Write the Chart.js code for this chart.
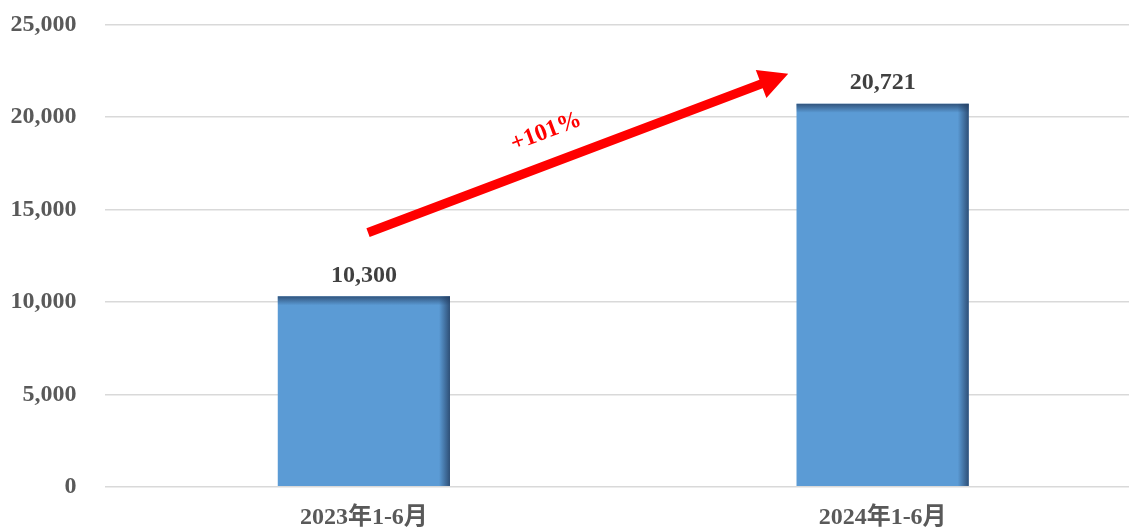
<!DOCTYPE html>
<html>
<head>
<meta charset="utf-8">
<script src="https://cdn.jsdelivr.net/npm/chart.js@4/dist/chart.umd.min.js"></script>
<style>
html,body{margin:0;padding:0;background:#fff;overflow:hidden;width:1129px;height:528px;}
#wrap{width:1142px;height:528px;}
</style>
</head>
<body>
<div id="wrap"><canvas id="c" width="1142" height="528"></canvas></div>
<script>
const categories = ['2023年1-6月', '2024年1-6月'];
const values = [10300, 20721];
const valueLabels = ['10,300', '20,721'];
const yTicks = [0, 5000, 10000, 15000, 20000, 25000];
const growthLabel = '+101%';
// arrow annotation anchors (category index + fraction of step, value)
const arrowFrom = { index: 0, shift: 0.008, value: 13750 };
const arrowTo = { index: 1, shift: -0.182, value: 22350 };

const FONT = '"Liberation Serif", "Times New Roman", "Noto Sans CJK SC", serif';

const barShade = {
  id: 'barShade',
  afterDatasetsDraw(chart) {
    const ctx = chart.ctx;
    chart.getDatasetMeta(0).data.forEach(el => {
      const p = el.getProps(['x', 'y', 'base', 'width'], true);
      const l = p.x - p.width / 2, r = p.x + p.width / 2, t = p.y, b = p.base;
      ctx.save();
      let g = ctx.createLinearGradient(0, t, 0, t + 9);
      g.addColorStop(0, 'rgba(35,60,95,0.75)');
      g.addColorStop(1, 'rgba(35,60,95,0)');
      ctx.fillStyle = g;
      ctx.fillRect(l, t, r - l, 9);
      g = ctx.createLinearGradient(r - 11, 0, r, 0);
      g.addColorStop(0, 'rgba(35,60,95,0)');
      g.addColorStop(1, 'rgba(35,60,95,0.8)');
      ctx.fillStyle = g;
      ctx.fillRect(r - 11, t, 11, b - t);
      ctx.restore();
    });
  }
};

const labelsAndArrow = {
  id: 'labelsAndArrow',
  afterDraw(chart) {
    const ctx = chart.ctx;
    const xs = chart.scales.x, ys = chart.scales.y;
    ctx.save();
    ctx.font = 'bold 24px ' + FONT;
    ctx.fillStyle = '#404040';
    ctx.textAlign = 'center';
    ctx.textBaseline = 'middle';
    chart.getDatasetMeta(0).data.forEach((el, i) => {
      ctx.fillText(valueLabels[i], el.x, el.y - 21);
    });
    const step = xs.getPixelForValue(1) - xs.getPixelForValue(0);
    const x0 = xs.getPixelForValue(arrowFrom.index) + arrowFrom.shift * step;
    const y0 = ys.getPixelForValue(arrowFrom.value);
    const x1 = xs.getPixelForValue(arrowTo.index) + arrowTo.shift * step;
    const y1 = ys.getPixelForValue(arrowTo.value);
    const ang = Math.atan2(y1 - y0, x1 - x0);
    const len = Math.hypot(x1 - x0, y1 - y0);
    ctx.translate(x0, y0);
    ctx.rotate(ang);
    const hl = 29, hw = 15, sw = 4.6;
    ctx.fillStyle = '#FF0000';
    ctx.beginPath();
    ctx.moveTo(0, -sw);
    ctx.lineTo(len - hl, -sw);
    ctx.lineTo(len - hl, -hw);
    ctx.lineTo(len, 0);
    ctx.lineTo(len - hl, hw);
    ctx.lineTo(len - hl, sw);
    ctx.lineTo(0, sw);
    ctx.closePath();
    ctx.fill();
    ctx.font = 'bold 24px ' + FONT;
    ctx.fillText(growthLabel, len * 0.45, -31);
    ctx.restore();
  }
};

new Chart(document.getElementById('c'), {
  type: 'bar',
  data: {
    labels: categories,
    datasets: [{
      data: values,
      backgroundColor: '#5B9BD5',
      borderWidth: 0,
      barPercentage: 0.332,
      categoryPercentage: 1
    }]
  },
  options: {
    responsive: false,
    animation: false,
    devicePixelRatio: 1,
    layout: { padding: { top: 24.7, right: 0, left: 0, bottom: 0 } },
    plugins: { legend: { display: false }, tooltip: { enabled: false } },
    scales: {
      x: {
        grid: { display: false, drawTicks: false },
        border: { display: false },
        ticks: { color: '#595959', font: { family: FONT, size: 24, weight: 'bold' }, padding: 17 },
        afterFit(s) { s.height = 41.3; }
      },
      y: {
        min: 0, max: 25000,
        afterBuildTicks(s) { s.ticks = yTicks.map(v => ({ value: v })); },
        grid: { color: '#d9d9d9', lineWidth: 1.5, drawTicks: false },
        border: { display: false },
        ticks: {
          color: '#595959', padding: 28,
          font: { family: FONT, size: 24, weight: 'bold' },
          callback: v => v.toLocaleString('en-US')
        },
        afterFit(s) { s.width = 104.5; s.paddingTop = 0; s.paddingBottom = 0; }
      }
    }
  },
  plugins: [barShade, labelsAndArrow]
});
</script>
</body>
</html>
